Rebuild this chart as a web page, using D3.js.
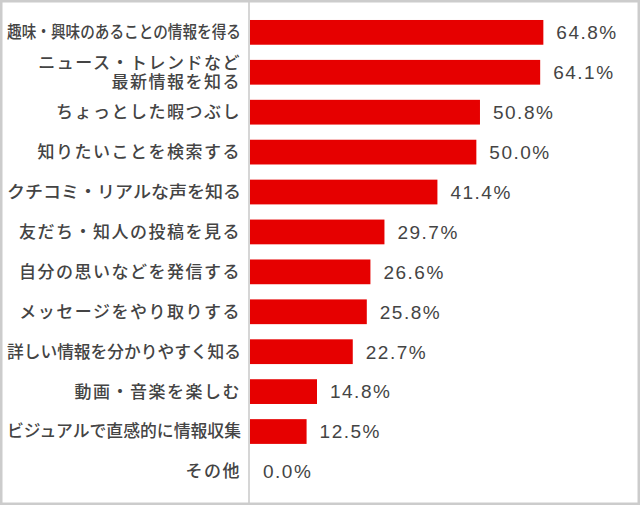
<!DOCTYPE html>
<html><head><meta charset="utf-8">
<script src="https://cdn.jsdelivr.net/npm/d3@7"></script>
<style>
html,body{margin:0;padding:0;background:#fff;}
svg{display:block;}
</style></head>
<body>
<svg id="chart" width="640" height="505"></svg>
<script>
const categories = [
  "趣味・興味のあることの情報を得る",
  "ニュース・トレンドなど\n最新情報を知る",
  "ちょっとした暇つぶし",
  "知りたいことを検索する",
  "クチコミ・リアルな声を知る",
  "友だち・知人の投稿を見る",
  "自分の思いなどを発信する",
  "メッセージをやり取りする",
  "詳しい情報を分かりやすく知る",
  "動画・音楽を楽しむ",
  "ビジュアルで直感的に情報収集",
  "その他"
];
const values = [64.8, 64.1, 50.8, 50.0, 41.4, 29.7, 26.6, 25.8, 22.7, 14.8, 12.5, 0.0];

const W = 640, H = 505;
const svg = d3.select("#chart");

const x = d3.scaleLinear().domain([0, 100]).range([250, 702.7]);
const y = d3.scaleBand().domain(categories).range([12.4, 491.4]).paddingInner(0.38).paddingOuter(0.19);

// frame
svg.append("rect").attr("x", 1.25).attr("y", 1.25).attr("width", W - 2.5).attr("height", H - 2.5)
  .attr("fill", "#fff").attr("stroke", "#cccccc").attr("stroke-width", 2.5);

// axis line
svg.append("line").attr("x1", 249).attr("x2", 249).attr("y1", 2).attr("y2", H - 2)
  .attr("stroke", "#cccccc").attr("stroke-width", 1.6);

// bars
svg.append("g").selectAll("rect").data(categories).join("rect")
  .attr("x", x(0))
  .attr("y", d => y(d))
  .attr("width", (d, i) => x(values[i]) - x(0))
  .attr("height", y.bandwidth())
  .attr("fill", "#e60000");

// value labels
svg.append("g").selectAll("text").data(categories).join("text")
  .attr("x", (d, i) => x(values[i]) + 13)
  .attr("y", d => y(d) + y.bandwidth() / 2)
  .attr("dy", "0.36em")
  .attr("font-family", "'Liberation Sans', Arial, sans-serif")
  .attr("font-size", 19)
  .attr("letter-spacing", 1.5)
  .attr("fill", "#444")
  .text((d, i) => values[i].toFixed(1) + "%");

// category labels
const labelRight = 241, maxW = 234;
const lg = svg.append("g")
  .attr("font-family", "'Noto Sans CJK JP', 'Noto Sans', sans-serif")
  .attr("font-size", 17)
  .attr("font-weight", 500)
  .attr("fill", "#444")
  .attr("text-anchor", "end");

categories.forEach(c => {
  const lines = c.split("\n");
  const cy = y(c) + y.bandwidth() / 2;
  lines.forEach((ln, j) => {
    const off = lines.length === 1 ? 0 : (j === 0 ? -9 : 9.5);
    const t = lg.append("text")
      .attr("x", labelRight)
      .attr("y", cy + off)
      .attr("dy", "0.35em")
      .attr("letter-spacing", 1.5)
      .text(ln);
    const w = t.node().getComputedTextLength();
    if (w > maxW) {
      t.attr("letter-spacing", 0)
       .attr("textLength", maxW)
       .attr("lengthAdjust", "spacingAndGlyphs");
    }
  });
});
</script>
</body></html>
